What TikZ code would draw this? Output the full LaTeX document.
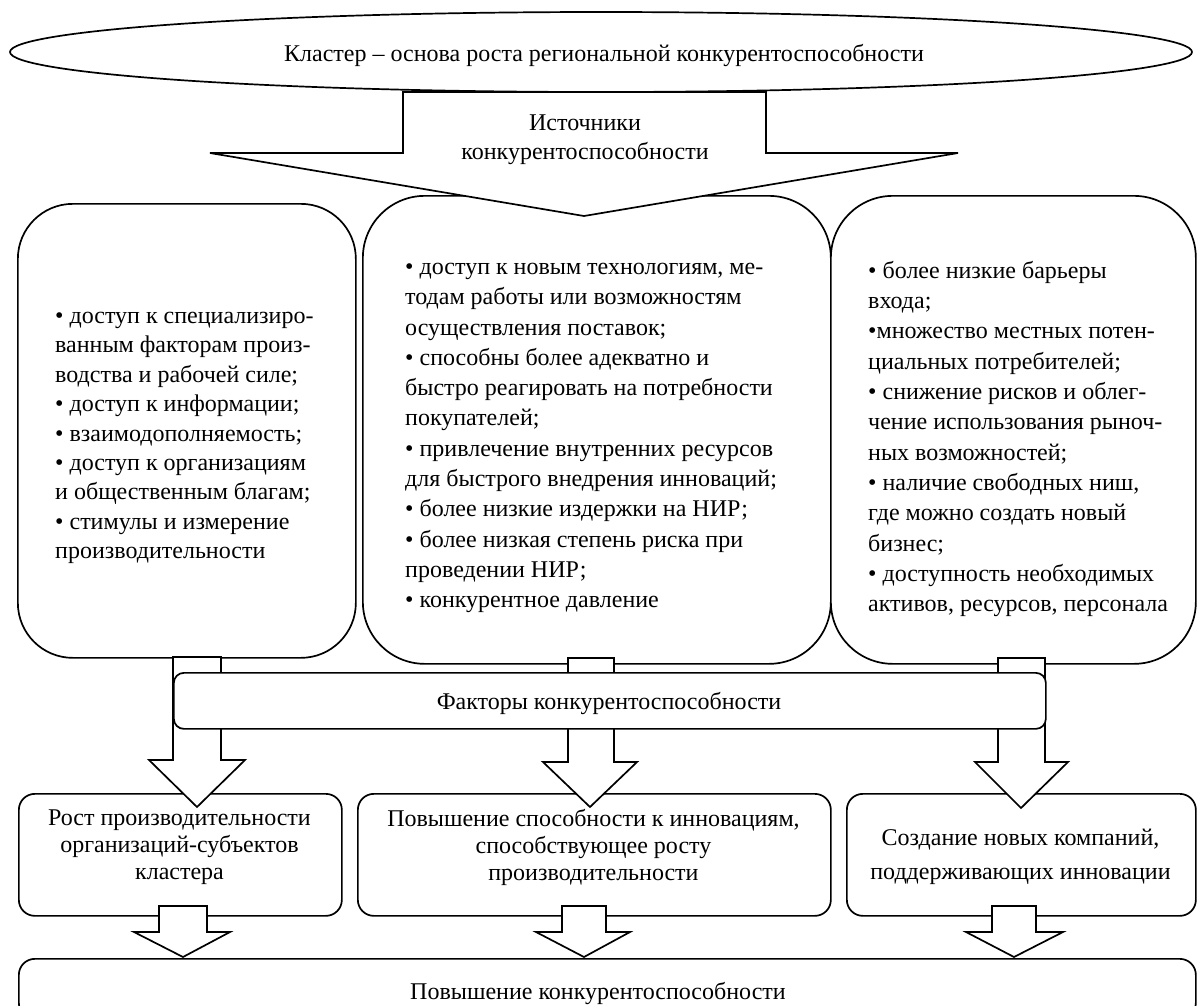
\documentclass[tikz,border=0pt]{standalone}
\usepackage{fontspec}
\setmainfont{Liberation Serif}
\usetikzlibrary{shapes.geometric}
\newcommand\lbxfont{\fontsize{24}{29.4}\selectfont}
\newcommand\bxfont{\fontsize{24}{30.3}\selectfont}
\newcommand\smfont{\fontsize{24}{27}\selectfont}
\tikzset{
  outl/.style={draw=black, line width=1.7pt, fill=white},
  bigbox/.style={outl, inner sep=0pt, anchor=north west},
  smbox/.style={outl, inner sep=0pt, anchor=north west, rounded corners=16pt},
  barrow/.style={outl, line join=miter},
  tx/.style={inner sep=0pt, font=\bxfont, align=left, anchor=west},
  ctx/.style={inner sep=0pt, font=\smfont, align=center},
}
\begin{document}
\begin{tikzpicture}[x=1pt,y=-1pt]
\useasboundingbox (0,0) rectangle (1197,1005);

% title ellipse
\node[ellipse, draw, line width=1.7pt, fill=white, minimum width=1182pt, minimum height=80pt, inner sep=0pt] (title) at (601,52) {};
\node[ctx] (titletxt) at (604,55) {Кластер – основа роста региональной конкурентоспособности};

% big boxes
\node[bigbox, rounded corners=55pt, minimum width=338pt, minimum height=454pt] (lbox) at (17,203) {};
\node[bigbox, rounded corners=62pt, minimum width=468pt, minimum height=468pt] (mbox) at (362,195) {};
\node[bigbox, rounded corners=62pt, minimum width=365pt, minimum height=468pt] (rbox) at (830,195) {};

% sources arrow
\draw[barrow] (403,92) -- (766,92) -- (766,153) -- (958,153) -- (584,216) -- (210,153) -- (403,153) -- cycle;
\node[ctx, font=\fontsize{24}{29}\selectfont] (src) at (585,140) {Источники\\конкурентоспособности};

% bottom boxes
\node[smbox, minimum width=323pt, minimum height=122pt] (b1) at (18,793) {};
\node[smbox, minimum width=473pt, minimum height=122pt] (b2) at (357,793) {};
\node[smbox, minimum width=349pt, minimum height=122pt] (b3) at (846,793) {};
\node[smbox, minimum width=1177pt, minimum height=60pt] (fin) at (18,958) {};

% factor arrows
\draw[barrow] (173,657) -- (221,657) -- (221,760) -- (245,760) -- (197,807) -- (149,760) -- (173,760) -- cycle;
\draw[barrow] (568,658) -- (614,658) -- (614,762) -- (637,762) -- (590,807) -- (543,762) -- (568,762) -- cycle;
\draw[barrow] (998,658) -- (1045,658) -- (1045,762) -- (1068,762) -- (1021,808) -- (975,762) -- (998,762) -- cycle;

% factors bar
\node[outl, rounded corners=10pt, inner sep=0pt, anchor=north west, minimum width=872pt, minimum height=56pt] (fac) at (173,672) {};
\node[ctx] (factxt) at (609,703) {Факторы конкурентоспособности};

% lower arrows
\draw[barrow] (159,906) -- (207,906) -- (207,932) -- (230,932) -- (183,957) -- (134,932) -- (159,932) -- cycle;
\draw[barrow] (562,906) -- (606,906) -- (606,932) -- (630,932) -- (584,957) -- (536,932) -- (562,932) -- cycle;
\draw[barrow] (992,906) -- (1036,906) -- (1036,932) -- (1063,932) -- (1014,957) -- (966,932) -- (992,932) -- cycle;

% texts in big boxes
\node[tx, font=\lbxfont] (ltxt) at (55,438) {• доступ к специализиро-\\ванным факторам произ-\\водства и рабочей силе;\\• доступ к информации;\\• взаимодополняемость;\\• доступ к организациям\\и общественным благам;\\• стимулы и измерение\\производительности};
\node[tx] (mtxt) at (405,438) {• доступ к новым технологиям, ме-\\тодам работы или возможностям\\осуществления поставок;\\• способны более адекватно и\\быстро реагировать на потребности\\покупателей;\\• привлечение внутренних ресурсов\\для быстрого внедрения инноваций;\\• более низкие издержки на НИР;\\• более низкая степень риска при\\проведении НИР;\\• конкурентное давление};
\node[tx] (rtxt) at (868,439) {• более низкие барьеры\\входа;\\•множество местных потен-\\циальных потребителей;\\• снижение рисков и облег-\\чение использования рыноч-\\ных возможностей;\\• наличие свободных ниш,\\где можно создать новый\\бизнес;\\• доступность необходимых\\активов, ресурсов, персонала};

% texts in bottom boxes
\node[ctx] (b1t) at (179.5,847) {Рост производительности\\организаций-субъектов\\кластера};
\node[ctx] (b2t) at (593.5,847) {Повышение способности к инновациям,\\способствующее росту\\производительности};
\node[ctx, font=\fontsize{24}{34}\selectfont] (b3t) at (1020.5,857) {Создание новых компаний,\\поддерживающих инновации};
\node[ctx] (fint) at (598,993) {Повышение конкурентоспособности};
\end{tikzpicture}
\end{document}
